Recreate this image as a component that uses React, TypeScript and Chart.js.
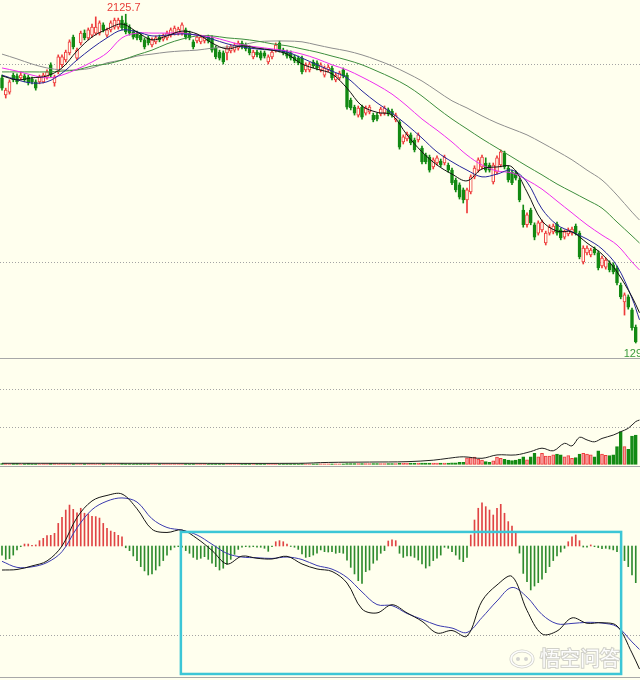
import React, { useEffect, useRef } from "react";
import { Chart, registerables } from "chart.js";

Chart.register(...registerables);

// ---------------- DATA ----------------
const OPEN = [
  1965, 1922, 1929, 1972, 1970, 1965, 1970, 1967, 1962, 1955,
  1955, 1955, 1967, 1998, 1952, 1980, 1998, 2010, 2028, 2068,
  2015, 2053, 2078, 2066, 2073, 2078, 2078, 2099, 2073, 2086,
  2093, 2093, 2111, 2104, 2093, 2081, 2078, 2073, 2061, 2066,
  2048, 2056, 2068, 2063, 2066, 2073, 2078, 2078, 2078, 2086,
  2078, 2056, 2058, 2056, 2058, 2068, 2066, 2040, 2030, 2028,
  2028, 2033, 2035, 2040, 2053, 2048, 2040, 2018, 2030, 2028,
  2028, 2005, 2018, 2035, 2053, 2035, 2030, 2028, 2018, 2015,
  2015, 1985, 1985, 2005, 2003, 1985, 1972, 1985, 1990, 1960,
  1965, 1985, 1972, 1909, 1891, 1871, 1891, 1876, 1879, 1871,
  1871, 1874, 1876, 1884, 1881, 1859, 1854, 1803, 1811, 1821,
  1808, 1808, 1788, 1770, 1765, 1740, 1750, 1755, 1750, 1745,
  1732, 1707, 1695, 1682, 1657, 1677, 1715, 1732, 1740, 1750,
  1745, 1702, 1727, 1745, 1775, 1737, 1727, 1725, 1707, 1631,
  1594, 1631, 1594, 1573, 1581, 1548, 1573, 1576, 1596, 1581,
  1563, 1571, 1573, 1591, 1573, 1500, 1523, 1518, 1533, 1523,
  1490, 1487, 1498, 1493, 1485, 1442, 1399, 1412, 1379, 1336,
];
const HIGH = [
  1972, 1939, 1960, 1977, 1975, 1980, 1975, 1972, 1967, 1960,
  1972, 1977, 1985, 2003, 1972, 2023, 2023, 2035, 2061, 2073,
  2040, 2083, 2086, 2091, 2101, 2119, 2109, 2104, 2091, 2109,
  2116, 2116, 2121, 2125.7, 2099, 2086, 2083, 2078, 2066, 2071,
  2066, 2071, 2073, 2076, 2083, 2091, 2096, 2093, 2104, 2091,
  2083, 2061, 2073, 2073, 2071, 2073, 2071, 2046, 2035, 2033,
  2046, 2048, 2053, 2058, 2058, 2053, 2046, 2035, 2035, 2033,
  2033, 2023, 2035, 2053, 2058, 2040, 2035, 2033, 2023, 2020,
  2020, 2003, 2005, 2010, 2008, 2003, 1995, 1998, 1995, 1977,
  1982, 1990, 1977, 1914, 1896, 1894, 1896, 1894, 1896, 1876,
  1876, 1891, 1894, 1889, 1886, 1876, 1859, 1821, 1828, 1826,
  1813, 1826, 1793, 1775, 1770, 1763, 1768, 1760, 1770, 1750,
  1737, 1712, 1700, 1687, 1687, 1720, 1743, 1763, 1770, 1763,
  1750, 1750, 1768, 1783, 1780, 1743, 1732, 1730, 1712, 1644,
  1624, 1636, 1599, 1604, 1606, 1578, 1594, 1596, 1601, 1586,
  1581, 1586, 1588, 1596, 1578, 1541, 1541, 1535, 1538, 1528,
  1515, 1510, 1503, 1498, 1490, 1447, 1422, 1417, 1384, 1341,
];
const LOW = [
  1934, 1914, 1924, 1955, 1950, 1960, 1955, 1947, 1950, 1934,
  1950, 1952, 1962, 1967, 1944, 1975, 1992, 2005, 2023, 2038,
  2010, 2048, 2061, 2061, 2068, 2073, 2073, 2081, 2068, 2081,
  2088, 2088, 2086, 2076, 2073, 2063, 2061, 2056, 2038, 2048,
  2043, 2051, 2056, 2058, 2061, 2068, 2073, 2073, 2073, 2063,
  2061, 2038, 2053, 2051, 2053, 2053, 2030, 2013, 2010, 2000,
  2010, 2028, 2030, 2035, 2038, 2033, 2023, 2013, 2018, 2010,
  2015, 2000, 2013, 2030, 2030, 2023, 2015, 2010, 2003, 1998,
  1975, 1980, 1980, 1990, 1985, 1980, 1967, 1980, 1960, 1955,
  1960, 1965, 1886, 1884, 1871, 1866, 1861, 1871, 1874, 1854,
  1856, 1869, 1871, 1869, 1866, 1854, 1785, 1798, 1806, 1796,
  1778, 1803, 1748, 1748, 1727, 1735, 1745, 1740, 1745, 1727,
  1695, 1677, 1659, 1649, 1624, 1672, 1710, 1727, 1735, 1727,
  1727, 1697, 1722, 1740, 1735, 1702, 1695, 1707, 1652, 1588,
  1588, 1594, 1556, 1568, 1576, 1543, 1568, 1571, 1568, 1556,
  1558, 1566, 1568, 1568, 1508, 1495, 1518, 1513, 1518, 1480,
  1485, 1482, 1475, 1470, 1442, 1407, 1366, 1381, 1328, 1295.5,
];
const CLOSE = [
  1939, 1934, 1955, 1960, 1955, 1972, 1960, 1952, 1955, 1939,
  1967, 1972, 1980, 1972, 1967, 2018, 2018, 2030, 2056, 2043,
  2035, 2078, 2066, 2086, 2093, 2093, 2104, 2086, 2086, 2104,
  2111, 2111, 2091, 2081, 2078, 2068, 2066, 2061, 2043, 2053,
  2061, 2066, 2061, 2071, 2078, 2086, 2091, 2088, 2099, 2068,
  2066, 2043, 2068, 2068, 2066, 2058, 2035, 2018, 2015, 2005,
  2040, 2043, 2048, 2053, 2043, 2038, 2028, 2030, 2023, 2015,
  2020, 2018, 2030, 2048, 2035, 2028, 2020, 2015, 2008, 2003,
  1980, 1998, 2000, 1995, 1990, 1998, 1990, 1992, 1965, 1972,
  1977, 1970, 1891, 1889, 1876, 1889, 1866, 1889, 1891, 1859,
  1861, 1886, 1889, 1874, 1871, 1871, 1790, 1816, 1823, 1801,
  1783, 1821, 1753, 1753, 1732, 1758, 1763, 1745, 1765, 1732,
  1700, 1682, 1664, 1657, 1682, 1715, 1737, 1758, 1765, 1732,
  1732, 1745, 1763, 1778, 1740, 1707, 1700, 1712, 1657, 1594,
  1619, 1599, 1563, 1599, 1601, 1573, 1588, 1591, 1573, 1561,
  1576, 1581, 1583, 1573, 1513, 1535, 1535, 1530, 1523, 1485,
  1510, 1505, 1480, 1475, 1447, 1412, 1417, 1386, 1334, 1298,
];

// moving averages, read at these candle positions
const MA_IDX = [
  0, 4, 8, 12, 16, 20, 24, 28, 32, 36, 40, 44, 48, 52, 56, 60, 64, 68, 72, 76,
  80, 84, 88, 92, 96, 100, 104, 108, 112, 116, 120, 124, 128, 132, 136, 140,
  144, 148, 152, 156, 160, 164, 168, 170,
];
const MA5 = [
  1970, 1960, 1965, 1970, 1990, 2033, 2068, 2088, 2101, 2081, 2061, 2071, 2083,
  2076, 2053, 2038, 2046, 2040, 2035, 2025, 2000, 1987, 1975, 1939, 1894, 1878,
  1871, 1821, 1778, 1745, 1722, 1705, 1735, 1740, 1740, 1677, 1604, 1578, 1576,
  1548, 1520, 1475, 1412, 1372,
];
const MA10 = [
  1972, 1960, 1952, 1955, 1977, 2010, 2040, 2066, 2086, 2081, 2071, 2073, 2076,
  2073, 2063, 2051, 2043, 2038, 2035, 2030, 2015, 1998, 1982, 1965, 1932, 1902,
  1876, 1846, 1813, 1778, 1753, 1732, 1715, 1722, 1732, 1702, 1634, 1594, 1576,
  1558, 1533, 1490, 1409, 1354,
];
const MA20 = [
  1990, 1982, 1972, 1965, 1972, 1987, 2005, 2028, 2066, 2078, 2078, 2078, 2078,
  2073, 2068, 2058, 2048, 2043, 2038, 2033, 2025, 2013, 1998, 1985, 1967, 1947,
  1924, 1894, 1861, 1833, 1803, 1770, 1745, 1730, 1725, 1707, 1684, 1654, 1624,
  1594, 1568, 1543, 1500, 1480,
];
const MA60 = [
  1980, 1980, 1980, 1980, 1982, 1985, 1995, 2000, 2010, 2023, 2035, 2051, 2063,
  2071, 2071, 2066, 2063, 2058, 2051, 2046, 2038, 2030, 2020, 2010, 1998, 1982,
  1965, 1945, 1919, 1889, 1861, 1836, 1811, 1788, 1765, 1742, 1720, 1697, 1677,
  1657, 1636, 1601, 1566, 1548,
];
const MA120 = [
  2025, 2013, 2000, 1990, 1985, 1985, 1990, 2003, 2010, 2020, 2025, 2030, 2033,
  2035, 2040, 2043, 2048, 2056, 2058, 2058, 2056, 2048, 2040, 2033, 2023, 2010,
  1995, 1977, 1957, 1932, 1907, 1889, 1869, 1851, 1836, 1821, 1801, 1780, 1758,
  1732, 1707, 1669, 1626, 1606,
];
const PRICE_GRID = [2000, 1500];

const VOLUME = [
  2, 2, 1, 2, 2, 1, 1, 2, 1, 1,
  1, 1, 1, 2, 2, 2, 1, 1, 1, 1,
  1, 1, 1, 1, 1, 1, 1, 1, 1, 1,
  1, 1, 2, 1, 1, 1, 1, 1, 1, 1,
  1, 1, 1, 1, 1, 1, 1, 1, 1, 1,
  1, 1, 1, 1, 1, 1, 1, 1, 1, 1,
  1, 1, 1, 1, 1, 1, 1, 1, 1, 1,
  1, 1, 1, 1, 1, 1, 1, 1, 1, 1,
  2, 1, 1, 1, 1, 1, 1, 1, 1, 1,
  1, 1, 2, 2, 2, 2, 2, 2, 2, 2,
  2, 2, 2, 2, 2, 2, 3, 3, 3, 3,
  3, 3, 3, 3, 3, 3, 3, 3, 3, 3,
  4, 4, 5, 5, 17, 18, 19, 14, 11, 7,
  5, 9, 19, 16, 13, 11, 10, 11, 14, 20,
  12, 20, 29, 20, 29, 22, 22, 25, 27, 25,
  20, 23, 16, 18, 27, 29, 27, 25, 20, 36,
  27, 24, 23, 25, 47, 87, 47, 40, 75, 78,
];
const VOL_LINE_IDX = [0, 40, 79, 87, 98, 108, 115, 119, 123, 128, 132, 137, 141, 144, 147, 150, 152, 154, 156, 158, 160, 163, 165, 167, 169, 170];
const VOL_LINE = [2.7, 2.7, 2.7, 5, 6, 7, 11, 16, 20, 16, 25, 25, 34, 43, 36, 56, 49, 72, 65, 60, 69, 78, 87, 96, 114, 118];
const VOL_GRID = [100, 200];

const MACD_HIST = [
  -5.1, -7.5, -7.1, -5.1, -2.2, -0.4, 1.1, 1.1, 0.4, 0.6,
  3, 4.3, 5.8, 6, 7.1, 12.7, 16.1, 20.2, 23, 20.6,
  18.7, 21.2, 18.4, 18, 16.7, 16.5, 15.7, 12.7, 9.9, 8.4,
  7.7, 6, 5.2, -1, -2.6, -5.6, -8.2, -11.6, -14, -16.3,
  -15.7, -13.5, -11.2, -8.2, -5.2, -2.2, -0.7, -0.4, -0.6, -2.6,
  -4.1, -6.4, -7.5, -6.9, -6, -7.5, -9.7, -11.6, -13.5, -12.5,
  -10.3, -7.5, -4.7, -1.9, -0.6, -0.4, -0.6, -0.4, -0.6, -0.7,
  -1.3, -3, -0.4, 2.4, 3, 2.4, 1.1, -0.3, -0.7, -1.9,
  -4.5, -6.4, -6, -5.1, -4.1, -2.2, -3.2, -3.4, -3.2, -4.1,
  -3.7, -4.1, -7.9, -12, -15.7, -19.5, -21, -14.4, -13.5, -9.7,
  -7.9, -4.1, -2.6, 2.8, 3.4, 3, -4.1, -6.4, -5.6, -5.6,
  -6.4, -7.9, -10.1, -12.4, -11.2, -8.2, -6.9, -5.1, -0.7, -1.3,
  -3.2, -5.1, -7.5, -8.8, -6.4, 6.2, 14.6, 21.2, 24.3, 22.1,
  20.2, 17.4, 21.2, 23.4, 18.4, 13.7, 11.2, 8.1, -4, -15.4,
  -20, -24.7, -22.5, -20.6, -18.7, -15, -11.6, -8.2, -5.6, -3.4,
  -1.3, 2.4, 5.2, 6.2, 3, -0.6, -0.7, 0.6, -0.4, -0.9,
  -1.5, -1.3, -1.7, -2.2, -3.2, -4.1, -8.2, -11.6, -16.3, -20.6,
];
const DIF = [
  -13.5, -13.2, -11.2, -8.4, 0, 16, 25.3, 28.4, 29.2, 20.9, 9.4, 7.6, 9, 4.2,
  -2.5, -10.1, -5.7, -6.9, -7.3, -5.8, -10.1, -12.9, -14.3, -20.8, -35.4, -37.6,
  -33, -37.6, -42.3, -48.9, -47.5, -50.6, -30.9, -21.9, -17.1, -36.2, -49.4,
  -47.8, -40.4, -43.4, -43.1, -44.9, -60.1, -69.1,
];
const DEA = [
  -8.6, -12, -11.7, -9.3, -3.2, 10.2, 20.4, 25.2, 27, 24.7, 15.3, 10.4, 8.9, 6.2,
  1, -4.2, -6.2, -6.6, -7, -6.2, -7.6, -11, -13, -17.7, -25.8, -32.9, -33.5,
  -37.9, -41.2, -44.5, -46.1, -48.6, -40.2, -30.9, -23.3, -28.7, -38.5, -43.7,
  -43.5, -42.9, -43.3, -45.3, -53.9, -58.1,
];
const MACD_GRID = [-50];
const WATERMARK = "悟空问答";

// ---------------- STYLE / LAYOUT ----------------
const BG = "#FFFFEE";
const UP = "#EE3B3B";
const DOWN = "#138A13";
const SEP = "#A8A8A8";
const GRID = "#A4A4A4";
const X_MIN = -0.5333;
const X_MAX = 170.1333;
const HIGHLIGHT = { from: 47.7, to: 165.1, top: 7.9, bottom: -71.9 };

const IDX = OPEN.map((_, i) => i);
const isUp = (i: number) => CLOSE[i] >= OPEN[i];

function gridPlugin(values: number[]) {
  return {
    id: "dottedGrid",
    beforeDatasetsDraw(chart: any) {
      const { ctx, chartArea, scales } = chart;
      ctx.save();
      ctx.strokeStyle = GRID;
      ctx.lineWidth = 1;
      ctx.setLineDash([1, 2]);
      for (const v of values) {
        const y = Math.round(scales.y.getPixelForValue(v)) + 0.5;
        ctx.beginPath();
        ctx.moveTo(chartArea.left, y);
        ctx.lineTo(chartArea.right, y);
        ctx.stroke();
      }
      ctx.restore();
    },
  };
}

function baseOptions(yMin: number, yMax: number) {
  return {
    responsive: false,
    maintainAspectRatio: false,
    animation: false,
    events: [],
    layout: { padding: 0 },
    plugins: { legend: { display: false }, tooltip: { enabled: false } },
    scales: {
      x: { type: "linear", min: X_MIN, max: X_MAX, display: false, offset: false },
      y: { type: "linear", min: yMin, max: yMax, display: false },
    },
  };
}

function lineDs(xs: number[], ys: number[], color: string, order: number) {
  return {
    type: "line",
    data: xs.map((x, k) => ({ x, y: ys[k] })),
    borderColor: color,
    borderWidth: 1,
    pointRadius: 0,
    tension: 0.35,
    fill: false,
    order,
  };
}

export default function App() {
  const mainRef = useRef<HTMLCanvasElement>(null);
  const volRef = useRef<HTMLCanvasElement>(null);
  const macdRef = useRef<HTMLCanvasElement>(null);

  useEffect(() => {
    const charts: Chart[] = [];

    const extremaPlugin = {
      id: "extrema",
      afterDatasetsDraw(chart: any) {
        const { ctx, scales } = chart;
        let hi = 0;
        let lo = 0;
        HIGH.forEach((v, i) => { if (v > HIGH[hi]) hi = i; });
        LOW.forEach((v, i) => { if (v < LOW[lo]) lo = i; });
        ctx.save();
        ctx.font = "11px 'Liberation Sans', Arial, sans-serif";
        ctx.fillStyle = "#E8403A";
        ctx.textAlign = "center";
        ctx.textBaseline = "bottom";
        ctx.fillText(HIGH[hi].toFixed(1), scales.x.getPixelForValue(hi) - 2, scales.y.getPixelForValue(HIGH[hi]) - 1);
        ctx.fillStyle = "#3A9A3A";
        ctx.textAlign = "left";
        ctx.textBaseline = "top";
        ctx.fillText(LOW[lo].toFixed(1), scales.x.getPixelForValue(lo) - 12, scales.y.getPixelForValue(LOW[lo]) + 5);
        ctx.restore();
      },
    };

    // main price panel
    charts.push(
      new Chart(mainRef.current as HTMLCanvasElement, {
        type: "bar",
        data: {
          datasets: [
            {
              type: "bar",
              data: IDX.map((i) => ({ x: i, y: [LOW[i], HIGH[i]] })),
              backgroundColor: IDX.map((i) => (isUp(i) ? UP : DOWN)),
              barThickness: 1,
              grouped: false,
              order: 10,
            },
            {
              type: "bar",
              data: IDX.map((i) => ({ x: i, y: [OPEN[i], CLOSE[i]] })),
              backgroundColor: IDX.map((i) => (isUp(i) ? BG : DOWN)),
              borderColor: IDX.map((i) => (isUp(i) ? UP : DOWN)),
              borderWidth: 1,
              borderSkipped: false,
              barThickness: 3,
              grouped: false,
              order: 9,
            },
            lineDs(MA_IDX, MA120, "#8E8E8E", 5),
            lineDs(MA_IDX, MA60, "#3E8E3E", 4),
            lineDs(MA_IDX, MA20, "#EE2EEE", 3),
            lineDs(MA_IDX, MA10, "#26269A", 2),
            lineDs(MA_IDX, MA5, "#111111", 1),
          ],
        } as any,
        options: baseOptions(1257.65, 2161.6) as any,
        plugins: [gridPlugin(PRICE_GRID), extremaPlugin],
      })
    );

    // volume panel
    charts.push(
      new Chart(volRef.current as HTMLCanvasElement, {
        type: "bar",
        data: {
          datasets: [
            {
              type: "bar",
              data: IDX.map((i) => ({ x: i, y: VOLUME[i] })),
              backgroundColor: IDX.map((i) => (isUp(i) ? "#F6A0A0" : DOWN)),
              borderColor: IDX.map((i) => (isUp(i) ? UP : DOWN)),
              borderWidth: 1,
              borderSkipped: false,
              barThickness: 3,
              grouped: false,
              order: 5,
            },
            lineDs(VOL_LINE_IDX, VOL_LINE, "#222222", 1),
          ],
        } as any,
        options: baseOptions(-4.53, 280.8) as any,
        plugins: [gridPlugin(VOL_GRID)],
      })
    );

    const overlayPlugin = {
      id: "overlay",
      afterDraw(chart: any) {
        const { ctx, scales } = chart;
        ctx.save();
        // highlight frame
        const x0 = scales.x.getPixelForValue(HIGHLIGHT.from);
        const x1 = scales.x.getPixelForValue(HIGHLIGHT.to);
        const y0 = scales.y.getPixelForValue(HIGHLIGHT.top);
        const y1 = scales.y.getPixelForValue(HIGHLIGHT.bottom);
        ctx.strokeStyle = "#3CC6D6";
        ctx.lineWidth = 2.5;
        ctx.strokeRect(x0, y0, x1 - x0, y1 - y0);
        // watermark
        ctx.font = "20px 'Noto Sans CJK SC', sans-serif";
        ctx.textAlign = "left";
        ctx.textBaseline = "alphabetic";
        ctx.lineWidth = 2;
        ctx.strokeStyle = "rgba(170,170,170,0.55)";
        ctx.strokeText(WATERMARK, 540, 199);
        ctx.fillStyle = "rgba(255,255,255,0.95)";
        ctx.fillText(WATERMARK, 540, 199);
        // logo
        ctx.beginPath();
        ctx.ellipse(522, 192, 11, 8, 0, 0, Math.PI * 2);
        ctx.strokeStyle = "rgba(170,170,170,0.55)";
        ctx.lineWidth = 3;
        ctx.stroke();
        ctx.strokeStyle = "rgba(255,255,255,0.95)";
        ctx.lineWidth = 1.5;
        ctx.stroke();
        ctx.beginPath();
        ctx.arc(518, 192, 2, 0, Math.PI * 2);
        ctx.arc(526, 192, 2, 0, Math.PI * 2);
        ctx.fillStyle = "rgba(200,200,200,0.8)";
        ctx.fill();
        ctx.restore();
      },
    };

    // MACD panel
    charts.push(
      new Chart(macdRef.current as HTMLCanvasElement, {
        type: "bar",
        data: {
          datasets: [
            {
              type: "bar",
              data: IDX.map((i) => ({ x: i, y: MACD_HIST[i] })),
              backgroundColor: IDX.map((i) => (MACD_HIST[i] >= 0 ? "#E04444" : "#2E8B2E")),
              barThickness: 1,
              grouped: false,
              order: 5,
            },
            lineDs(MA_IDX, DEA, "#3A3AAE", 2),
            lineDs(MA_IDX, DIF, "#151515", 1),
          ],
        } as any,
        options: baseOptions(-73.6, 44.38) as any,
        plugins: [gridPlugin(MACD_GRID), overlayPlugin],
      })
    );

    return () => charts.forEach((c) => c.destroy());
  }, []);

  const sep = (top: number) => (
    <div style={{ position: "absolute", left: 0, top, width: 640, height: 1, background: SEP }} />
  );

  return (
    <div style={{ position: "absolute", left: 0, top: 0, width: 640, height: 680, background: BG, overflow: "hidden" }}>
      <canvas ref={mainRef} width={640} height={358} style={{ position: "absolute", left: 0, top: 0 }} />
      {sep(358)}
      <canvas ref={volRef} width={640} height={107} style={{ position: "absolute", left: 0, top: 359 }} />
      {sep(466)}
      <canvas ref={macdRef} width={640} height={210} style={{ position: "absolute", left: 0, top: 467 }} />
      {sep(677)}
    </div>
  );
}
